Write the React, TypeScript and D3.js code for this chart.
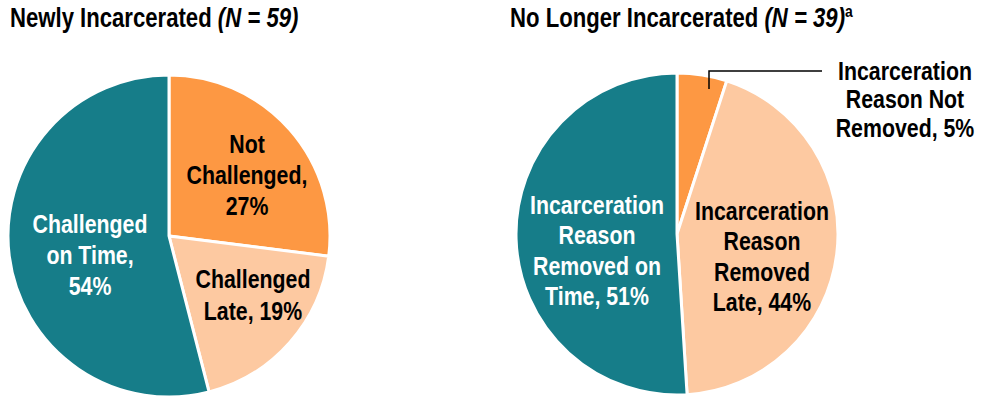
import React from "react";
import * as d3 from "d3";

const W = 982;
const H = 396;

const newlyCategories = ["Not Challenged", "Challenged Late", "Challenged on Time"];
const newlyValues = [27, 19, 54];
const newlyLabels = [["Not", "Challenged,", "27%"], ["Challenged", "Late, 19%"], ["Challenged", "on Time,", "54%"]];

const releasedCategories = ["Incarceration Reason Not Removed", "Incarceration Reason Removed Late", "Incarceration Reason Removed on Time"];
const releasedValues = [5, 44, 51];
const releasedLabels = [["Incarceration", "Reason Not", "Removed, 5%"], ["Incarceration", "Reason", "Removed", "Late, 44%"], ["Incarceration", "Reason", "Removed on", "Time, 51%"]];

const sliceColors = ["#fd9843", "#fdc9a1", "#167d89"];
const labelColors = ["#000", "#000", "#fff"];

const FONT = "'Liberation Sans', Arial, sans-serif";
const NARROW = 0.82;

function NarrowText({ x, y, lines, lh, size, fill, anchor }: { x: number; y: number; lines: string[]; lh: number; size: number; fill: string; anchor: string }) {
  return (
    <g transform={`translate(${x},${y}) scale(${NARROW},1)`}>
      <text textAnchor={anchor} fill={fill} fontFamily={FONT} fontWeight="bold" fontSize={size}>
        {lines.map((l, j) => (
          <tspan key={j} x={0} y={j * lh}>
            {l}
          </tspan>
        ))}
      </text>
    </g>
  );
}

type Pos = { x: number; y: number; lh: number };

function Pie({ cx, cy, r, values, labels, positions, skipLabel }: { cx: number; cy: number; r: number; values: number[]; labels: string[][]; positions: Pos[]; skipLabel?: number }) {
  const pie = d3.pie<number>().sort(null).value((d) => d);
  const arcs = pie(values);
  const arc = d3.arc<d3.PieArcDatum<number>>().innerRadius(0).outerRadius(r);
  return (
    <g transform={`translate(${cx},${cy})`}>
      {arcs.map((a, i) => (
        <path key={i} d={arc(a) || ""} fill={sliceColors[i]} stroke="#fff" strokeWidth={3} strokeLinejoin="round" />
      ))}
      {labels.map((lines, i) =>
        i === skipLabel ? null : (
          <NarrowText key={i} x={positions[i].x} y={positions[i].y} lines={lines} lh={positions[i].lh} size={26} fill={labelColors[i]} anchor="middle" />
        )
      )}
    </g>
  );
}

export default function App() {
  const r = 161;
  const c1 = { x: 169, y: 236 };
  const c2 = { x: 677, y: 234 };
  return (
    <svg width={W} height={H} style={{ position: "absolute", left: 0, top: 0, background: "#fff" }}>
      <g transform={`translate(10,27) scale(${NARROW},1)`}>
        <text x={0} y={0} fontFamily={FONT} fontWeight="bold" fontSize={27} fill="#000">
          Newly Incarcerated <tspan fontStyle="italic">(N = 59)</tspan>
        </text>
      </g>
      <g transform={`translate(510,27) scale(${NARROW},1)`}>
        <text x={0} y={0} fontFamily={FONT} fontWeight="bold" fontSize={27} fill="#000">
          No Longer Incarcerated <tspan fontStyle="italic">(N = 39)</tspan>
          <tspan fontSize={17} dy={-10}>a</tspan>
        </text>
      </g>
      <Pie
        cx={c1.x}
        cy={c1.y}
        r={r}
        values={newlyValues}
        labels={newlyLabels}
        positions={[
          { x: 78, y: -83, lh: 31 },
          { x: 84, y: 52, lh: 32 },
          { x: -79, y: -3, lh: 31 },
        ]}
      />
      <Pie
        cx={c2.x}
        cy={c2.y}
        r={r}
        values={releasedValues}
        labels={releasedLabels}
        skipLabel={0}
        positions={[
          { x: 0, y: 0, lh: 30 },
          { x: 85, y: -14, lh: 30.3 },
          { x: -80, y: -20, lh: 30.3 },
        ]}
      />
      <path d={`M${709},${89}V${71}H${822}`} fill="none" stroke="#000" strokeWidth={1.5} />
      <NarrowText x={905} y={80} lines={releasedLabels[0]} lh={28.5} size={26} fill="#000" anchor="middle" />
    </svg>
  );
}
